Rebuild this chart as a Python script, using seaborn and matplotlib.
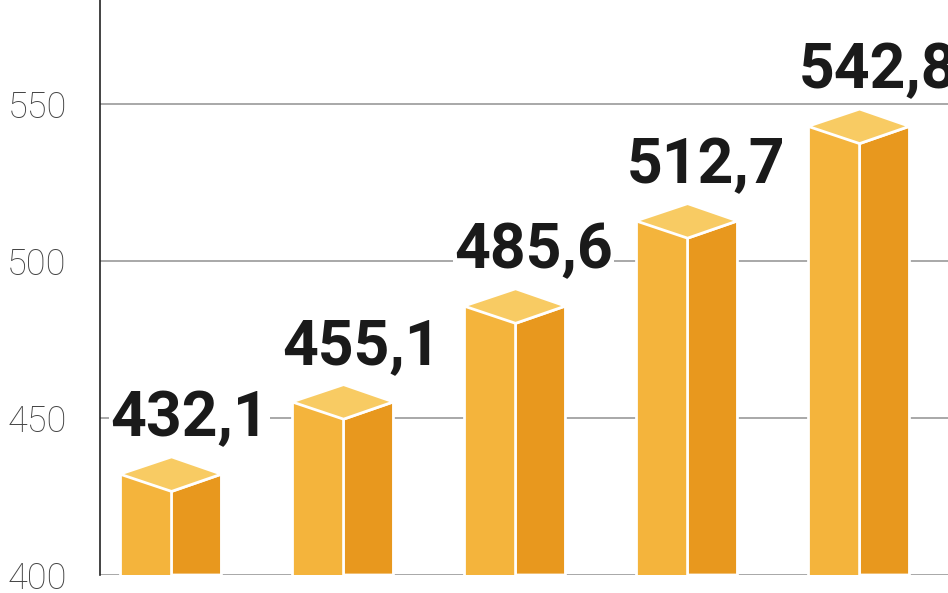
import matplotlib
matplotlib.use("Agg")
import matplotlib.pyplot as plt
import seaborn as sns
import pandas as pd
from matplotlib.patches import Polygon

categories = ["A", "B", "C", "D", "E"]
values = [432.1, 455.1, 485.6, 512.7, 542.8]
labels = ["432,1", "455,1", "485,6", "512,7", "542,8"]
yticks = [400, 450, 500, 550]

sns.set_style("white")
plt.rcParams['font.family'] = ['Roboto', 'DejaVu Sans']

fig = plt.figure(figsize=(9.48, 5.93), dpi=100)
ax = fig.add_axes([100/948, 18/593, 848/948, 575/593])
df = pd.DataFrame({"cat": categories, "val": values})
sns.barplot(data=df, x="cat", y="val", color="#F4B43C", width=0.3, saturation=1,
            edgecolor="white", linewidth=2, ax=ax, zorder=3)
ax.set_ylim(400, 583)
ax.set_xlim(-0.266, 4.664)

e = 5.5
sw = 0.29
for p, lab in zip(ax.patches, labels):
    xl = p.get_x(); xm = xl + p.get_width(); xr = xm + sw
    h = p.get_y() + p.get_height()
    ax.add_patch(Polygon([(xm, 400), (xr, 400), (xr, h), (xm, h - e)], closed=True,
                         facecolor="#E8981E", edgecolor="white", lw=2, zorder=4))
    ax.add_patch(Polygon([(xl, h), (xm, h - e), (xr, h), (xm, h + e)], closed=True,
                         facecolor="#F8CB63", edgecolor="white", lw=2, zorder=5))
    ax.text((xl + xr) / 2 + 0.11, h + 8, lab, ha="center", va="bottom", fontsize=45,
            fontweight="bold", color="#1a1a1a", zorder=6,
            bbox=dict(facecolor="white", edgecolor="none", pad=1))

ax.set_yticks(yticks)
ax.set_yticklabels([str(t) for t in yticks], fontsize=26, color="#444444", fontweight="light")
ax.tick_params(axis="y", length=0, pad=24)
ax.set_xticks([])
ax.set_xlabel(""); ax.set_ylabel("")
ax.yaxis.grid(True, color="#999999", lw=1.2, zorder=0)
ax.set_axisbelow(True)
for s in ["top", "right", "bottom"]:
    ax.spines[s].set_visible(False)
ax.spines["left"].set_color("#222222")
ax.spines["left"].set_linewidth(1.2)
fig.savefig("out.png", dpi=100)
